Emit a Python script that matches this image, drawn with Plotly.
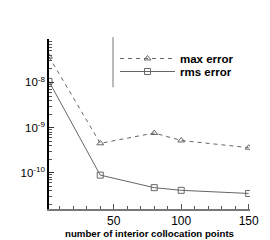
import plotly.graph_objects as go

# ---- data ----
n_points = [2, 40, 80, 100, 150]
max_error = [3.7e-8, 4.5e-10, 7.6e-10, 5.2e-10, 3.6e-10]
rms_error = [1.05e-8, 8.9e-11, 4.7e-11, 4.1e-11, 3.5e-11]

x_tick_vals = [50, 100, 150]
x_tick_text = ["50", "100", "150"]
y_tick_vals = [1e-8, 1e-9, 1e-10]
y_tick_text = ["10<sup>-8</sup>", "10<sup>-9</sup>", "10<sup>-10</sup>"]

W, H = 270, 240
ML, MR, MT, MB = 41, 28, 31, 26

x_minor = [v for v in range(10, 151, 10) if v not in x_tick_vals]
y_minor = [m * 10.0 ** e for e in (-11, -10, -9, -8) for m in range(2, 10)]

line_col = "#666666"

fig = go.Figure()
fig.add_trace(go.Scatter(
    x=n_points, y=max_error, name="max error", mode="lines+markers",
    line=dict(color=line_col, width=1, dash="4px,4px"),
    marker=dict(symbol="triangle-up-open", size=6, color=line_col, line=dict(width=1)),
    legend="legend",
))
fig.add_trace(go.Scatter(
    x=n_points, y=rms_error, name="rms error", mode="lines+markers",
    line=dict(color=line_col, width=1),
    marker=dict(symbol="square-open", size=6, color=line_col, line=dict(width=1)),
    legend="legend2",
))

pw = W - ML - MR
ph = H - MT - MB

def px_x(p):
    return (p - ML) / pw

def px_y(p):
    return 1 - (p - MT) / ph

legend_common = dict(
    bgcolor="rgba(0,0,0,0)", borderwidth=0, itemwidth=55,
    font=dict(family="Liberation Sans, Arial, sans-serif", size=11.5, color="black", weight="bold"),
    xanchor="left", yanchor="middle", tracegroupgap=0,
)

fig.update_layout(
    width=W, height=H,
    margin=dict(l=ML, r=MR, t=MT, b=MB),
    paper_bgcolor="white", plot_bgcolor="white",
    showlegend=True,
    legend=dict(x=px_x(107), y=px_y(52), **legend_common),
    legend2=dict(x=px_x(107), y=px_y(66), **legend_common),
    xaxis=dict(
        range=[2, 151], showgrid=False, zeroline=False,
        showline=True, linecolor="#777777", linewidth=2,
        ticks="inside", ticklen=5, tickcolor="#555555", tickwidth=1,
        tickvals=x_tick_vals, ticktext=x_tick_text,
        tickfont=dict(family="Liberation Sans, Arial, sans-serif", size=12, color="black"),
        minor=dict(tickmode="array", tickvals=x_minor, ticks="inside", ticklen=3,
                   tickcolor="#555555", tickwidth=1),
        title=dict(text="number of interior collocation points", standoff=1,
                   font=dict(family="Liberation Sans, Arial, sans-serif", size=9.7,
                             color="black", weight="bold")),
    ),
    yaxis=dict(
        type="log", range=[-10.80, -7.04], showgrid=False, zeroline=False,
        showline=True, linecolor="black", linewidth=1.5,
        ticks="inside", ticklen=5, tickcolor="#333333", tickwidth=1,
        tickvals=y_tick_vals, ticktext=y_tick_text,
        tickfont=dict(family="Liberation Sans, Arial, sans-serif", size=11.5, color="black"),
        minor=dict(tickmode="array", tickvals=y_minor, ticks="inside", ticklen=3,
                   tickcolor="#555555", tickwidth=1),
    ),
    shapes=[
        dict(type="line", xref="paper", yref="paper",
             x0=px_x(105), x1=px_x(105), y0=px_y(29), y1=px_y(83),
             line=dict(color="#777777", width=1)),
        dict(type="line", xref="paper", yref="paper",
             x0=px_x(268.5), x1=px_x(268.5), y0=px_y(0), y1=px_y(240),
             line=dict(color="#cccccc", width=1)),
    ],
)

fig.write_html("out.html")
